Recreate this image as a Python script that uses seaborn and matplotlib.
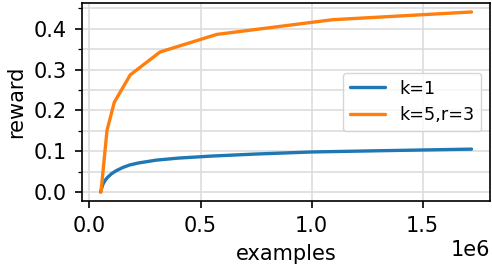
import numpy as np
import pandas as pd
import matplotlib
matplotlib.use("Agg")
import matplotlib.pyplot as plt
import seaborn as sns
from matplotlib.ticker import MultipleLocator

# data (examples in units of 1e6)
k1_x = [0.05, 0.06, 0.07, 0.08, 0.10, 0.12, 0.15, 0.18, 0.22, 0.30, 0.40, 0.55, 0.75, 1.00, 1.30, 1.72]
k1_y = [0.0, 0.018, 0.028, 0.035, 0.045, 0.052, 0.060, 0.066, 0.071, 0.078, 0.083, 0.088, 0.093, 0.098, 0.101, 0.105]
k5_x = [0.052, 0.079, 0.112, 0.184, 0.318, 0.573, 1.094, 1.72]
k5_y = [0.0, 0.151, 0.220, 0.287, 0.343, 0.386, 0.422, 0.441]
labels = ["k=1", "k=5,r=3"]

df = pd.concat([
    pd.DataFrame({"examples": np.array(k1_x) * 1e6, "reward": k1_y, "run": labels[0]}),
    pd.DataFrame({"examples": np.array(k5_x) * 1e6, "reward": k5_y, "run": labels[1]}),
])

sns.set_style("ticks")
plt.rcParams["font.family"] = ["DejaVu Sans"]
plt.rcParams["text.color"] = "black"
plt.rcParams["axes.labelcolor"] = "black"
fig = plt.figure(figsize=(4.92, 2.70), dpi=100)
ax = fig.add_axes([0.1667, 0.2556, 0.8293, 0.7334])
sns.lineplot(data=df, x="examples", y="reward", hue="run", palette=["#1f77b4", "#ff7f0e"],
             linewidth=2.4, ax=ax, estimator=None, sort=False)
ax.yaxis.set_major_locator(MultipleLocator(0.1))
ax.yaxis.set_minor_locator(MultipleLocator(0.05))
ax.xaxis.set_major_locator(MultipleLocator(0.5e6))
ax.grid(True, which="both", axis="y", color="#dddddd", lw=1.2)
ax.grid(True, which="major", axis="x", color="#dddddd", lw=1.2)
ax.set_axisbelow(True)
for s in ax.spines.values():
    s.set_color("black")
    s.set_linewidth(1.2)
ax.tick_params(labelsize=15, colors="black", labelcolor="black", length=5.25, width=1.2, pad=5.5)
ax.tick_params(which="minor", length=3, width=0.9, colors="black")
ax.xaxis.get_offset_text().set_fontsize(15)
ax.xaxis.get_offset_text().set_color("black")
ax.set_xlabel("examples", fontsize=15, labelpad=6, color="black")
ax.set_ylabel("reward", fontsize=15, labelpad=6, color="black")
leg = ax.legend(title=None, loc="center right", fontsize=12.7, frameon=True)
for t in leg.get_texts():
    t.set_color("black")
fig.savefig("out.png", dpi=100)
